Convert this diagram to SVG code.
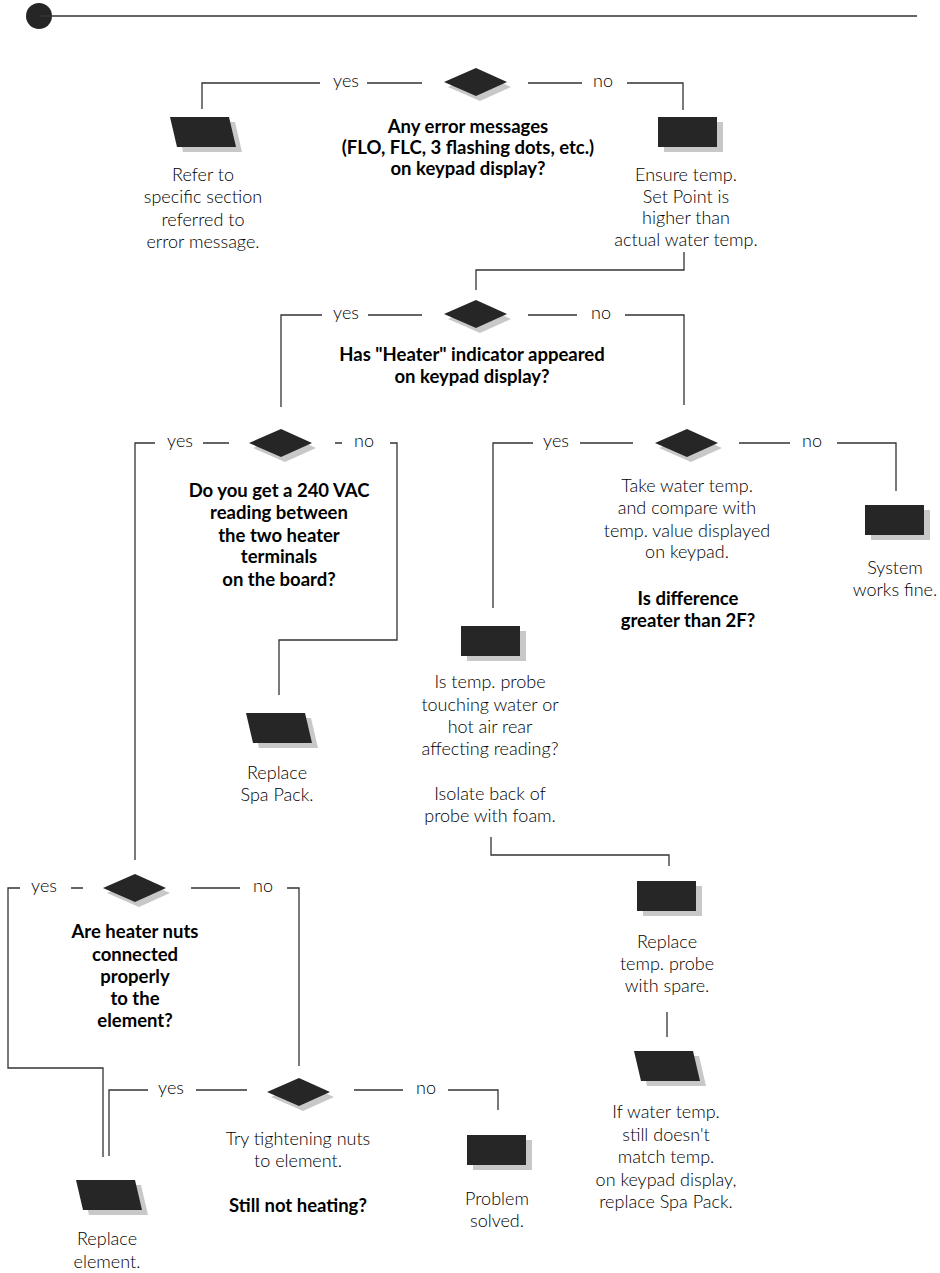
<svg xmlns="http://www.w3.org/2000/svg" xmlns:xlink="http://www.w3.org/1999/xlink" width="940" height="1273" viewBox="0 0 940 1273">
<style>
.ln{fill:none;stroke:#333;stroke-width:1.3}
.sh{fill:#c8c8c8}
.bk{fill:#262626}
.t{font-family:Lato,"Liberation Sans",sans-serif;font-weight:300;font-size:18px;fill:#000;text-anchor:middle}
.b{font-family:Lato,"Liberation Sans",sans-serif;font-weight:700;font-size:18.5px;fill:#000;text-anchor:middle}
</style>
<defs>
<path id="dia" d="M-32,0 L0,-14 L31,0 L0,14 Z"/>
<path id="box" d="M0,0 H59 V30 H0 Z"/>
<path id="par" d="M0,0 H59 L66,30 H7 Z"/>
</defs>
<g id="header">
<circle cx="39" cy="16" r="13" class="bk"/>
<path class="ln" d="M39,16 H917"/>
</g>
<g id="connectors">
<path class="ln" d="M320,83 H202 V109 M367,83 H422"/>
<path class="ln" d="M528,83 H582 M627,83 H683 V110"/>
<path class="ln" d="M684,252 V270 H476 V290"/>
<path class="ln" d="M322,315 H281 V407 M368,315 H422"/>
<path class="ln" d="M528,315 H577 M625,315 H684 V405"/>
<path class="ln" d="M155,443 H135 V860 M203,443 H229"/>
<path class="ln" d="M335,443 H342 M390,443 H397 V640 H279 V695"/>
<path class="ln" d="M533,443 H493 V608 M580,443 H633"/>
<path class="ln" d="M739,443 H790 M837,443 H896 V491"/>
<path class="ln" d="M491,837 V855 H669 V866"/>
<path class="ln" d="M667,1012 V1037"/>
<path class="ln" d="M20,888 H8 V1068 H103 V1157 M71,888 H83"/>
<path class="ln" d="M191,888 H240 M287,888 H299 V1066"/>
<path class="ln" d="M148,1090 H109 V1156 M196,1090 H247"/>
<path class="ln" d="M354,1090 H403 M448,1090 H498 V1110"/>
<text class="t" x="346" y="87">yes</text>
<text class="t" x="603" y="87">no</text>
<text class="t" x="346" y="319">yes</text>
<text class="t" x="601" y="319">no</text>
<text class="t" x="180" y="447">yes</text>
<text class="t" x="364" y="447">no</text>
<text class="t" x="556" y="447">yes</text>
<text class="t" x="812" y="447">no</text>
<text class="t" x="44" y="892">yes</text>
<text class="t" x="263" y="892">no</text>
<text class="t" x="171" y="1094">yes</text>
<text class="t" x="426" y="1094">no</text>
</g>
<g id="d1">
<use href="#dia" x="480" y="87" class="sh"/><use href="#dia" x="476" y="82" class="bk"/>
<text class="b" x="468" y="133">Any error messages</text>
<text class="b" x="468" y="154">(FLO, FLC, 3 flashing dots, etc.)</text>
<text class="b" x="468" y="175">on keypad display?</text>
</g>
<g id="refer">
<use href="#par" x="176" y="122" class="sh"/><use href="#par" x="170" y="117" class="bk"/>
<text class="t" x="203" y="181">Refer to</text>
<text class="t" x="203" y="203">specific section</text>
<text class="t" x="203" y="226">referred to</text>
<text class="t" x="203" y="248">error message.</text>
</g>
<g id="ensure">
<use href="#box" x="664" y="122" class="sh"/><use href="#box" x="658" y="117" class="bk"/>
<text class="t" x="686" y="181">Ensure temp.</text>
<text class="t" x="686" y="203">Set Point is</text>
<text class="t" x="686" y="224">higher than</text>
<text class="t" x="686" y="246">actual water temp.</text>
</g>
<g id="d2">
<use href="#dia" x="480" y="319" class="sh"/><use href="#dia" x="476" y="314" class="bk"/>
<text class="b" x="472" y="361">Has "Heater" indicator appeared</text>
<text class="b" x="472" y="383">on keypad display?</text>
</g>
<g id="d3l">
<use href="#dia" x="285" y="448" class="sh"/><use href="#dia" x="281" y="443" class="bk"/>
<text class="b" x="279" y="497">Do you get a 240 VAC</text>
<text class="b" x="279" y="519">reading between</text>
<text class="b" x="279" y="542">the two heater</text>
<text class="b" x="279" y="563">terminals</text>
<text class="b" x="279" y="586">on the board?</text>
</g>
<g id="spapack">
<use href="#par" x="252" y="718" class="sh"/><use href="#par" x="246" y="713" class="bk"/>
<text class="t" x="277" y="779">Replace</text>
<text class="t" x="277" y="801">Spa Pack.</text>
</g>
<g id="d3r">
<use href="#dia" x="691" y="448" class="sh"/><use href="#dia" x="687" y="443" class="bk"/>
<text class="t" x="687" y="492">Take water temp.</text>
<text class="t" x="687" y="514">and compare with</text>
<text class="t" x="687" y="537">temp. value displayed</text>
<text class="t" x="687" y="558">on keypad.</text>
<text class="b" x="688" y="605">Is difference</text>
<text class="b" x="688" y="627">greater than 2F?</text>
</g>
<g id="system">
<use href="#box" x="871" y="510" class="sh"/><use href="#box" x="865" y="505" class="bk"/>
<text class="t" x="895" y="574">System</text>
<text class="t" x="895" y="596">works fine.</text>
</g>
<g id="probe">
<use href="#box" x="467" y="631" class="sh"/><use href="#box" x="461" y="626" class="bk"/>
<text class="t" x="490" y="688">Is temp. probe</text>
<text class="t" x="490" y="711">touching water or</text>
<text class="t" x="490" y="733">hot air rear</text>
<text class="t" x="490" y="755">affecting reading?</text>
<text class="t" x="490" y="800">Isolate back of</text>
<text class="t" x="490" y="822">probe with foam.</text>
</g>
<g id="replaceprobe">
<use href="#box" x="643" y="886" class="sh"/><use href="#box" x="637" y="881" class="bk"/>
<text class="t" x="667" y="948">Replace</text>
<text class="t" x="667" y="970">temp. probe</text>
<text class="t" x="667" y="992">with spare.</text>
</g>
<g id="stillwrong">
<use href="#par" x="640" y="1056" class="sh"/><use href="#par" x="634" y="1051" class="bk"/>
<text class="t" x="666" y="1118">If water temp.</text>
<text class="t" x="666" y="1141">still doesn't</text>
<text class="t" x="666" y="1163">match temp.</text>
<text class="t" x="666" y="1186">on keypad display,</text>
<text class="t" x="666" y="1208">replace Spa Pack.</text>
</g>
<g id="d4">
<use href="#dia" x="139" y="893" class="sh"/><use href="#dia" x="135" y="888" class="bk"/>
<text class="b" x="135" y="938">Are heater nuts</text>
<text class="b" x="135" y="961">connected</text>
<text class="b" x="135" y="983">properly</text>
<text class="b" x="135" y="1005">to the</text>
<text class="b" x="135" y="1027">element?</text>
</g>
<g id="d5">
<use href="#dia" x="303" y="1097" class="sh"/><use href="#dia" x="299" y="1092" class="bk"/>
<text class="t" x="298" y="1145">Try tightening nuts</text>
<text class="t" x="298" y="1167">to element.</text>
<text class="b" x="298" y="1212">Still not heating?</text>
</g>
<g id="solved">
<use href="#box" x="473" y="1140" class="sh"/><use href="#box" x="467" y="1135" class="bk"/>
<text class="t" x="497" y="1205">Problem</text>
<text class="t" x="497" y="1227">solved.</text>
</g>
<g id="element">
<use href="#par" x="82" y="1185" class="sh"/><use href="#par" x="76" y="1180" class="bk"/>
<text class="t" x="107" y="1245">Replace</text>
<text class="t" x="107" y="1268">element.</text>
</g>
</svg>
